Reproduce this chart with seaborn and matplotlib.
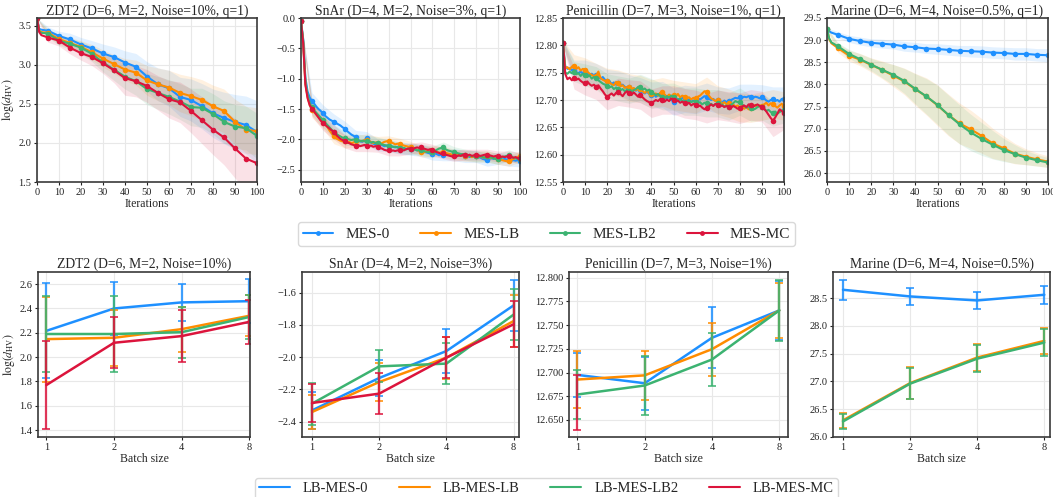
import numpy as np
import matplotlib
matplotlib.use("Agg")
import matplotlib.pyplot as plt
from matplotlib.lines import Line2D
from matplotlib.ticker import MultipleLocator, FormatStrFormatter
import seaborn as sns

sns.set_theme(style="whitegrid")
plt.rcParams["font.family"] = ["Liberation Serif", "DejaVu Serif"]
plt.rcParams["mathtext.fontset"] = "stix"

# ---------------------------------------------------------------- labels
methods = ["MES-0", "MES-LB", "MES-LB2", "MES-MC"]
batch_methods = ["LB-MES-0", "LB-MES-LB", "LB-MES-LB2", "LB-MES-MC"]
colors = ["#1E90FF", "#FF8C00", "#3CB371", "#DC143C"]

top_titles = ["ZDT2 (D=6, M=2, Noise=10%, q=1)", "SnAr (D=4, M=2, Noise=3%, q=1)",
              "Penicillin (D=7, M=3, Noise=1%, q=1)", "Marine (D=6, M=4, Noise=0.5%, q=1)"]
bottom_titles = ["ZDT2 (D=6, M=2, Noise=10%)", "SnAr (D=4, M=2, Noise=3%)",
                 "Penicillin (D=7, M=3, Noise=1%)", "Marine (D=6, M=4, Noise=0.5%)"]

# ---------------------------------------------------------------- ZDT2, q=1
zdt2_iters = [0, 1, 2] + list(range(5, 101, 5))
zdt2_mes0 = [3.60, 3.46, 3.45, 3.436, 3.37, 3.325, 3.26, 3.21, 3.146, 3.10, 3.03, 2.975,
             2.85, 2.75, 2.70, 2.59, 2.55, 2.47, 2.38, 2.32, 2.27, 2.23, 2.14]
zdt2_meslb = [3.60, 3.44, 3.42, 3.41, 3.33, 3.28, 3.23, 3.16, 3.08, 3.01, 2.94, 2.90,
              2.80, 2.75, 2.71, 2.64, 2.60, 2.55, 2.47, 2.41, 2.27, 2.17, 2.15]
zdt2_meslb2 = [3.60, 3.43, 3.41, 3.40, 3.31, 3.27, 3.22, 3.14, 3.03, 2.94, 2.85, 2.79,
               2.69, 2.64, 2.59, 2.53, 2.46, 2.45, 2.37, 2.27, 2.21, 2.19, 2.09]
zdt2_mesmc = [3.60, 3.42, 3.38, 3.35, 3.31, 3.22, 3.15, 3.10, 3.02, 2.93, 2.83, 2.79,
              2.73, 2.64, 2.56, 2.52, 2.41, 2.29, 2.17, 2.07, 1.93, 1.80, 1.74]
# spread across seeds, every 5 iterations
zdt2_mes0_sd = [0.0, 0.05, 0.06, 0.08, 0.09, 0.10, 0.12, 0.13, 0.15, 0.17, 0.19, 0.21,
                0.23, 0.25, 0.27, 0.29, 0.31, 0.33, 0.35, 0.37, 0.40]
zdt2_meslb_sd = [0.0, 0.05, 0.06, 0.07, 0.08, 0.10, 0.11, 0.12, 0.14, 0.16, 0.19, 0.21,
                 0.22, 0.24, 0.25, 0.26, 0.27, 0.28, 0.29, 0.30, 0.30]
zdt2_meslb2_sd = [0.0, 0.05, 0.06, 0.07, 0.08, 0.10, 0.12, 0.14, 0.16, 0.18, 0.20, 0.21,
                  0.22, 0.23, 0.24, 0.25, 0.26, 0.27, 0.28, 0.28, 0.29]
zdt2_mesmc_sd = [0.0, 0.06, 0.07, 0.08, 0.09, 0.11, 0.13, 0.16, 0.22, 0.20, 0.21, 0.22,
                 0.24, 0.26, 0.28, 0.30, 0.32, 0.35, 0.38, 0.40, 0.40]

# ---------------------------------------------------------------- SnAr, q=1
snar_iters = list(range(0, 101))
snar_mes0 = [
    -0.05, -0.35, -0.98, -1.21, -1.31, -1.37, -1.41, -1.46, -1.50, -1.53,
    -1.57, -1.61, -1.64, -1.67, -1.69, -1.71, -1.73, -1.75, -1.77, -1.80,
    -1.82, -1.86, -1.89, -1.92, -1.94, -1.96, -2.00, -2.03, -2.04, -2.01,
    -1.98, -2.02, -2.05, -2.07, -2.08, -2.09, -2.07, -2.09, -2.11, -2.10,
    -2.10, -2.11, -2.12, -2.13, -2.12, -2.14, -2.15, -2.14, -2.16, -2.15,
    -2.16, -2.17, -2.16, -2.18, -2.17, -2.18, -2.20, -2.21, -2.22, -2.23,
    -2.24, -2.23, -2.24, -2.26, -2.25, -2.25, -2.26, -2.24, -2.25, -2.26,
    -2.25, -2.26, -2.27, -2.26, -2.27, -2.28, -2.27, -2.29, -2.28, -2.27,
    -2.28, -2.29, -2.30, -2.32, -2.33, -2.34, -2.32, -2.31, -2.32, -2.30,
    -2.31, -2.32, -2.33, -2.32, -2.33, -2.34, -2.35, -2.34, -2.35, -2.34,
    -2.35]
snar_meslb = [
    -0.05, -0.40, -1.08, -1.30, -1.43, -1.51, -1.55, -1.59, -1.63, -1.67,
    -1.70, -1.74, -1.79, -1.85, -1.90, -1.95, -1.98, -2.00, -2.02, -2.03,
    -2.03, -2.05, -2.04, -2.06, -2.05, -2.03, -2.04, -2.02, -2.03, -2.01,
    -2.01, -2.03, -2.04, -2.06, -2.05, -2.05, -2.07, -2.06, -2.04, -2.03,
    -2.03, -2.05, -2.06, -2.08, -2.07, -2.07, -2.09, -2.10, -2.11, -2.12,
    -2.12, -2.14, -2.16, -2.17, -2.19, -2.20, -2.21, -2.20, -2.19, -2.20,
    -2.20, -2.21, -2.20, -2.22, -2.21, -2.20, -2.22, -2.23, -2.24, -2.25,
    -2.25, -2.24, -2.26, -2.27, -2.26, -2.27, -2.28, -2.27, -2.29, -2.28,
    -2.28, -2.29, -2.28, -2.30, -2.29, -2.28, -2.30, -2.31, -2.30, -2.32,
    -2.32, -2.33, -2.34, -2.35, -2.36, -2.35, -2.34, -2.32, -2.30, -2.29,
    -2.28]
snar_meslb2 = [
    -0.05, -0.38, -1.04, -1.27, -1.40, -1.47, -1.52, -1.56, -1.60, -1.64,
    -1.68, -1.72, -1.76, -1.80, -1.84, -1.87, -1.90, -1.93, -1.95, -1.97,
    -1.98, -1.99, -2.00, -2.01, -2.00, -2.01, -2.02, -2.03, -2.02, -2.03,
    -2.03, -2.04, -2.05, -2.04, -2.06, -2.05, -2.07, -2.08, -2.09, -2.10,
    -2.10, -2.11, -2.12, -2.12, -2.13, -2.14, -2.15, -2.14, -2.16, -2.15,
    -2.16, -2.17, -2.16, -2.18, -2.17, -2.17, -2.19, -2.20, -2.21, -2.20,
    -2.20, -2.19, -2.17, -2.15, -2.14, -2.13, -2.16, -2.18, -2.19, -2.20,
    -2.21, -2.22, -2.23, -2.24, -2.24, -2.25, -2.26, -2.27, -2.27, -2.28,
    -2.28, -2.29, -2.28, -2.29, -2.30, -2.28, -2.29, -2.30, -2.31, -2.32,
    -2.32, -2.31, -2.29, -2.28, -2.27, -2.26, -2.28, -2.30, -2.31, -2.32,
    -2.32]
snar_mesmc = [
    -0.05, -0.42, -1.10, -1.32, -1.44, -1.49, -1.54, -1.59, -1.64, -1.69,
    -1.73, -1.76, -1.79, -1.82, -1.85, -1.88, -1.92, -1.96, -1.99, -2.01,
    -2.03, -2.05, -2.06, -2.08, -2.09, -2.10, -2.09, -2.11, -2.10, -2.09,
    -2.10, -2.11, -2.10, -2.12, -2.11, -2.12, -2.14, -2.15, -2.17, -2.18,
    -2.18, -2.19, -2.18, -2.19, -2.18, -2.18, -2.17, -2.18, -2.16, -2.15,
    -2.15, -2.16, -2.14, -2.13, -2.14, -2.13, -2.15, -2.16, -2.17, -2.16,
    -2.17, -2.19, -2.21, -2.22, -2.24, -2.23, -2.25, -2.26, -2.27, -2.28,
    -2.27, -2.28, -2.26, -2.27, -2.25, -2.25, -2.26, -2.25, -2.27, -2.26,
    -2.25, -2.26, -2.27, -2.26, -2.25, -2.25, -2.26, -2.27, -2.28, -2.27,
    -2.28, -2.29, -2.28, -2.29, -2.28, -2.28, -2.29, -2.30, -2.29, -2.31,
    -2.30]
snar_mes0_sd = [0.02, 0.14, 0.14, 0.13, 0.12, 0.11, 0.11, 0.10, 0.10, 0.10, 0.10,
                0.10, 0.10, 0.10, 0.10, 0.10, 0.10, 0.10, 0.10, 0.10, 0.10]
snar_meslb_sd = [0.02, 0.13, 0.12, 0.12, 0.11, 0.10, 0.10, 0.10, 0.09, 0.09, 0.09,
                 0.09, 0.09, 0.09, 0.09, 0.09, 0.09, 0.09, 0.09, 0.09, 0.09]
snar_meslb2_sd = [0.02, 0.13, 0.12, 0.11, 0.11, 0.10, 0.10, 0.09, 0.09, 0.09, 0.09,
                  0.09, 0.09, 0.09, 0.09, 0.09, 0.09, 0.09, 0.09, 0.09, 0.09]
snar_mesmc_sd = [0.02, 0.13, 0.12, 0.12, 0.11, 0.10, 0.10, 0.09, 0.09, 0.09, 0.09,
                 0.09, 0.09, 0.09, 0.09, 0.09, 0.09, 0.09, 0.09, 0.09, 0.09]

# ---------------------------------------------------------------- Penicillin, q=1
pen_iters = list(range(0, 101))
pen_mes0 = [
    12.804, 12.762, 12.757, 12.758, 12.754, 12.755, 12.751, 12.749, 12.752, 12.748,
    12.753, 12.750, 12.746, 12.748, 12.744, 12.746, 12.741, 12.739, 12.742, 12.737,
    12.734, 12.735, 12.729, 12.732, 12.728, 12.731, 12.726, 12.728, 12.724, 12.722,
    12.723, 12.719, 12.721, 12.717, 12.720, 12.718, 12.714, 12.712, 12.715, 12.711,
    12.709, 12.711, 12.706, 12.708, 12.712, 12.710, 12.705, 12.703, 12.706, 12.700,
    12.697, 12.699, 12.702, 12.700, 12.704, 12.702, 12.698, 12.701, 12.697, 12.699,
    12.700, 12.703, 12.701, 12.704, 12.707, 12.706, 12.703, 12.700, 12.702, 12.698,
    12.700, 12.697, 12.695, 12.699, 12.696, 12.698, 12.700, 12.702, 12.704, 12.703,
    12.705, 12.704, 12.706, 12.705, 12.707, 12.706, 12.704, 12.706, 12.705, 12.703,
    12.705, 12.703, 12.699, 12.697, 12.700, 12.701, 12.698, 12.700, 12.697, 12.702,
    12.701]
pen_meslb = [
    12.804, 12.758, 12.760, 12.756, 12.761, 12.763, 12.757, 12.760, 12.754, 12.757,
    12.755, 12.752, 12.748, 12.746, 12.743, 12.744, 12.752, 12.740, 12.737, 12.735,
    12.734, 12.732, 12.729, 12.727, 12.733, 12.731, 12.725, 12.727, 12.722, 12.724,
    12.723, 12.720, 12.722, 12.718, 12.721, 12.720, 12.716, 12.713, 12.717, 12.712,
    12.711, 12.709, 12.712, 12.708, 12.713, 12.715, 12.710, 12.706, 12.710, 12.707,
    12.709, 12.706, 12.711, 12.705, 12.708, 12.706, 12.703, 12.705, 12.701, 12.704,
    12.703, 12.706, 12.708, 12.712, 12.716, 12.715, 12.708, 12.703, 12.701, 12.698,
    12.700, 12.697, 12.693, 12.696, 12.692, 12.694, 12.690, 12.692, 12.688, 12.690,
    12.686, 12.689, 12.684, 12.687, 12.683, 12.685, 12.688, 12.691, 12.687, 12.690,
    12.689, 12.692, 12.695, 12.690, 12.694, 12.693, 12.689, 12.686, 12.690, 12.693,
    12.689]
pen_meslb2 = [
    12.804, 12.750, 12.748, 12.752, 12.749, 12.752, 12.747, 12.749, 12.744, 12.748,
    12.746, 12.742, 12.745, 12.739, 12.742, 12.740, 12.736, 12.733, 12.730, 12.728,
    12.726, 12.723, 12.725, 12.720, 12.723, 12.721, 12.718, 12.720, 12.716, 12.719,
    12.717, 12.714, 12.718, 12.720, 12.724, 12.723, 12.719, 12.721, 12.717, 12.719,
    12.715, 12.712, 12.709, 12.711, 12.707, 12.706, 12.703, 12.707, 12.704, 12.708,
    12.706, 12.703, 12.700, 12.702, 12.698, 12.697, 12.695, 12.699, 12.696, 12.698,
    12.697, 12.694, 12.696, 12.692, 12.695, 12.694, 12.691, 12.693, 12.690, 12.692,
    12.694, 12.690, 12.692, 12.688, 12.690, 12.688, 12.691, 12.694, 12.698, 12.696,
    12.697, 12.692, 12.689, 12.686, 12.688, 12.685, 12.682, 12.684, 12.687, 12.689,
    12.687, 12.684, 12.680, 12.682, 12.678, 12.676, 12.679, 12.675, 12.678, 12.680,
    12.682]
pen_mesmc = [
    12.804, 12.748, 12.738, 12.741, 12.736, 12.740, 12.737, 12.739, 12.735, 12.732,
    12.731, 12.734, 12.729, 12.726, 12.728, 12.724, 12.727, 12.721, 12.716, 12.710,
    12.706, 12.709, 12.712, 12.708, 12.713, 12.715, 12.711, 12.707, 12.713, 12.716,
    12.712, 12.709, 12.714, 12.710, 12.706, 12.709, 12.705, 12.701, 12.698, 12.696,
    12.694, 12.697, 12.700, 12.698, 12.702, 12.700, 12.697, 12.701, 12.698, 12.703,
    12.700, 12.697, 12.699, 12.695, 12.697, 12.694, 12.692, 12.695, 12.690, 12.693,
    12.691, 12.688, 12.690, 12.686, 12.683, 12.685, 12.688, 12.692, 12.689, 12.693,
    12.691, 12.688, 12.690, 12.687, 12.689, 12.688, 12.686, 12.689, 12.687, 12.684,
    12.685, 12.688, 12.690, 12.687, 12.692, 12.691, 12.688, 12.690, 12.692, 12.689,
    12.688, 12.684, 12.679, 12.673, 12.667, 12.662, 12.668, 12.675, 12.683, 12.680,
    12.676]
pen_mes0_sd = [0.005, 0.018, 0.020, 0.021, 0.022, 0.022, 0.023, 0.023, 0.024, 0.024, 0.025,
               0.025, 0.025, 0.025, 0.024, 0.024, 0.024, 0.023, 0.023, 0.023, 0.023]
pen_meslb_sd = [0.005, 0.020, 0.022, 0.023, 0.024, 0.024, 0.025, 0.025, 0.026, 0.026, 0.027,
                0.027, 0.027, 0.027, 0.026, 0.026, 0.026, 0.026, 0.026, 0.026, 0.026]
pen_meslb2_sd = [0.005, 0.018, 0.020, 0.021, 0.022, 0.023, 0.023, 0.024, 0.024, 0.024, 0.025,
                 0.025, 0.025, 0.025, 0.025, 0.025, 0.025, 0.024, 0.024, 0.024, 0.024]
pen_mesmc_sd = [0.005, 0.020, 0.022, 0.023, 0.024, 0.025, 0.025, 0.026, 0.026, 0.026, 0.026,
                0.027, 0.027, 0.027, 0.027, 0.027, 0.028, 0.028, 0.028, 0.029, 0.030]

# ---------------------------------------------------------------- Marine, q=1
marine_iters = [0, 1, 2] + list(range(5, 101, 5))
marine_mes0 = [29.25, 29.20, 29.17, 29.12, 29.03, 28.98, 28.94, 28.92, 28.90, 28.86, 28.84,
               28.81, 28.80, 28.78, 28.76, 28.75, 28.74, 28.72, 28.71, 28.69, 28.69, 28.67, 28.66]
marine_meslb = [29.25, 29.02, 28.93, 28.82, 28.65, 28.56, 28.44, 28.33, 28.20, 28.07, 27.89,
                27.73, 27.53, 27.31, 27.12, 26.99, 26.84, 26.67, 26.56, 26.44, 26.37, 26.31, 26.26]
marine_meslb2 = [29.25, 29.04, 28.95, 28.86, 28.69, 28.57, 28.45, 28.33, 28.22, 28.08, 27.90,
                 27.73, 27.54, 27.31, 27.10, 26.92, 26.77, 26.64, 26.52, 26.43, 26.35, 26.29, 26.24]
marine_mes0_sd = [0.03, 0.07, 0.08, 0.09, 0.09, 0.10, 0.10, 0.11, 0.11, 0.11, 0.12,
                  0.12, 0.12, 0.13, 0.13, 0.13, 0.13, 0.14, 0.14, 0.14, 0.15]
marine_meslb_sd = [0.03, 0.10, 0.12, 0.14, 0.16, 0.20, 0.25, 0.30, 0.36, 0.42, 0.46,
                   0.47, 0.46, 0.43, 0.39, 0.34, 0.28, 0.23, 0.18, 0.15, 0.13]
marine_meslb2_sd = [0.03, 0.08, 0.10, 0.12, 0.14, 0.18, 0.23, 0.28, 0.34, 0.40, 0.44,
                    0.45, 0.44, 0.41, 0.37, 0.32, 0.26, 0.21, 0.16, 0.13, 0.11]

# ---------------------------------------------------------------- batch-size study
batch_sizes = ["1", "2", "4", "8"]

zdt2_b_mean = {"LB-MES-0": [2.216, 2.40, 2.45, 2.46], "LB-MES-LB": [2.148, 2.159, 2.23, 2.34],
               "LB-MES-LB2": [2.19, 2.19, 2.205, 2.33], "LB-MES-MC": [1.77, 2.118, 2.173, 2.29]}
zdt2_b_err = {"LB-MES-0": [0.39, 0.22, 0.155, 0.18], "LB-MES-LB": [0.35, 0.23, 0.185, 0.17],
              "LB-MES-LB2": [0.31, 0.31, 0.21, 0.18], "LB-MES-MC": [0.365, 0.21, 0.215, 0.18]}

snar_b_mean = {"LB-MES-0": [-2.33, -2.129, -1.962, -1.679], "LB-MES-LB": [-2.34, -2.154, -2.003, -1.776],
               "LB-MES-LB2": [-2.288, -2.057, -2.04, -1.736], "LB-MES-MC": [-2.284, -2.226, -2.003, -1.796]}
snar_b_err = {"LB-MES-0": [0.115, 0.11, 0.135, 0.157], "LB-MES-LB": [0.105, 0.12, 0.13, 0.163],
              "LB-MES-LB2": [0.13, 0.10, 0.125, 0.16], "LB-MES-MC": [0.12, 0.128, 0.127, 0.143]}

pen_b_mean = {"LB-MES-0": [12.6975, 12.6887, 12.7366, 12.7655], "LB-MES-LB": [12.6926, 12.697, 12.7246, 12.7655],
              "LB-MES-LB2": [12.6768, 12.6863, 12.7137, 12.7655], "LB-MES-MC": [12.668, np.nan, np.nan, np.nan]}
pen_b_err = {"LB-MES-0": [0.023, 0.028, 0.032, 0.031], "LB-MES-LB": [0.030, 0.026, 0.028, 0.029],
             "LB-MES-LB2": [0.026, 0.031, 0.028, 0.032], "LB-MES-MC": [0.029, np.nan, np.nan, np.nan]}

marine_b_mean = {"LB-MES-0": [28.65, 28.53, 28.458, 28.56], "LB-MES-LB": [26.30, 26.97, 27.43, 27.73],
                 "LB-MES-LB2": [26.28, 26.96, 27.41, 27.70]}
marine_b_err = {"LB-MES-0": [0.18, 0.15, 0.16, 0.16], "LB-MES-LB": [0.14, 0.29, 0.24, 0.235],
                "LB-MES-LB2": [0.14, 0.28, 0.24, 0.24]}

# ---------------------------------------------------------------- figure
W, H = 1053, 497
fig = plt.figure(figsize=(W / 100, H / 100), dpi=100)

TITLE_FS = 9.8
LABEL_FS = 8.5
TICK_FS = 7.5


def px_axes(left, top, right, bottom):
    return fig.add_axes([left / W, 1 - bottom / H, (right - left) / W, (bottom - top) / H])


def style(ax):
    ax.set_facecolor("white")
    ax.grid(True, color="#e8e8e8", linewidth=0.8)
    for s in ax.spines.values():
        s.set_color("#3a3a3a")
        s.set_linewidth(1.2)
    ax.tick_params(axis="both", labelsize=TICK_FS, pad=1.5, length=2.5, width=0.8,
                   colors="#222222", left=True, bottom=True)


top_boxes = [(37, 18, 257, 182), (301, 18, 520, 182), (563, 18, 784, 182), (827, 18, 1048, 182)]
bot_boxes = [(38, 272, 250, 437), (302, 272, 519, 437), (569, 272, 788, 437), (833, 272, 1050, 437)]

top_sets = [
    (zdt2_iters, [(zdt2_mes0, zdt2_mes0_sd), (zdt2_meslb, zdt2_meslb_sd),
                  (zdt2_meslb2, zdt2_meslb2_sd), (zdt2_mesmc, zdt2_mesmc_sd)], (1.5, 3.6), 0.5),
    (snar_iters, [(snar_mes0, snar_mes0_sd), (snar_meslb, snar_meslb_sd),
                  (snar_meslb2, snar_meslb2_sd), (snar_mesmc, snar_mesmc_sd)], (-2.7, 0.0), 0.5),
    (pen_iters, [(pen_mes0, pen_mes0_sd), (pen_meslb, pen_meslb_sd),
                 (pen_meslb2, pen_meslb2_sd), (pen_mesmc, pen_mesmc_sd)], (12.55, 12.85), 0.05),
    (marine_iters, [(marine_mes0, marine_mes0_sd), (marine_meslb, marine_meslb_sd),
                    (marine_meslb2, marine_meslb2_sd)], (25.8, 29.5), 0.5),
]

for i, (box, (iters, series, ylim, ystep)) in enumerate(zip(top_boxes, top_sets)):
    ax = px_axes(*box)
    style(ax)
    it = np.asarray(iters)
    on5 = np.where(it % 5 == 0)[0]
    for j, (mean, sd) in enumerate(series):
        mean = np.asarray(mean)
        sd = np.asarray(sd)
        ax.fill_between(it[on5], mean[on5] - sd, mean[on5] + sd, color=colors[j],
                        alpha=0.12, linewidth=0)
    for j, (mean, sd) in enumerate(series):
        sns.lineplot(x=it, y=np.asarray(mean), ax=ax, color=colors[j], linewidth=1.5,
                     marker="o", markersize=4, markeredgewidth=0, markevery=list(on5),
                     legend=False)
    ax.set_xlim(0, 100)
    ax.set_ylim(*ylim)
    ax.xaxis.set_major_locator(MultipleLocator(10))
    ax.yaxis.set_major_locator(MultipleLocator(ystep))
    ax.set_title(top_titles[i], fontsize=TITLE_FS, pad=2)
    ax.set_xlabel("Iterations", fontsize=LABEL_FS, labelpad=1)
    ax.set_ylabel(r"$\log(d_{\mathrm{HV}})$" if i == 0 else "", fontsize=LABEL_FS, labelpad=2)

bot_sets = [
    (zdt2_b_mean, zdt2_b_err, (1.343, 2.70), 0.2, (-0.123, 3.01)),
    (snar_b_mean, snar_b_err, (-2.495, -1.472), 0.2, (-0.149, 3.08)),
    (pen_b_mean, pen_b_err, (12.632, 12.806), 0.025, (-0.124, 3.13)),
    (marine_b_mean, marine_b_err, (26.0, 28.97), 0.5, (-0.149, 3.085)),
]

pos = np.arange(len(batch_sizes))
for i, (box, (means, errs, ylim, ystep, xlim)) in enumerate(zip(bot_boxes, bot_sets)):
    ax = px_axes(*box)
    style(ax)
    for j, name in enumerate(batch_methods):
        if name not in means:
            continue
        m = np.asarray(means[name], dtype=float)
        e = np.asarray(errs[name], dtype=float)
        ax.errorbar(pos, m, yerr=e, fmt="none", ecolor=colors[j], elinewidth=1.6,
                    capsize=3, capthick=1.3, alpha=0.85)
        ok = ~np.isnan(m)
        if ok.sum() > 1:
            sns.lineplot(x=pos[ok], y=m[ok], ax=ax, color=colors[j], linewidth=1.8,
                         legend=False)
    ax.set_xticks(pos)
    ax.set_xticklabels(batch_sizes)
    ax.set_xlim(*xlim)
    ax.set_ylim(*ylim)
    ax.yaxis.set_major_locator(MultipleLocator(ystep))
    if ystep == 0.025:
        ax.yaxis.set_major_formatter(FormatStrFormatter("%.3f"))
    ax.set_title(bottom_titles[i], fontsize=TITLE_FS, pad=3)
    ax.set_xlabel("Batch size", fontsize=LABEL_FS, labelpad=1)
    ax.set_ylabel(r"$\log(d_{\mathrm{HV}})$" if i == 0 else "", fontsize=LABEL_FS, labelpad=2)

top_handles = [Line2D([], [], color=c, linewidth=1.5, marker="o", markersize=3.5,
                      markeredgewidth=0) for c in colors]
fig.legend(top_handles, methods, loc="center", bbox_to_anchor=(0.519, 0.529), ncol=4,
           fontsize=11, handlelength=2.0, columnspacing=2.0, frameon=True,
           edgecolor="#d0d0d0", borderpad=0.35, handletextpad=0.8)

bot_handles = [Line2D([], [], color=c, linewidth=1.5) for c in colors]
fig.legend(bot_handles, batch_methods, loc="upper center", bbox_to_anchor=(0.519, 0.039),
           ncol=4, fontsize=10.5, handlelength=2.1, columnspacing=2.1, frameon=True,
           edgecolor="#d0d0d0", borderpad=0.3, handletextpad=0.9, borderaxespad=0.0)

fig.savefig("out.png", dpi=100)
